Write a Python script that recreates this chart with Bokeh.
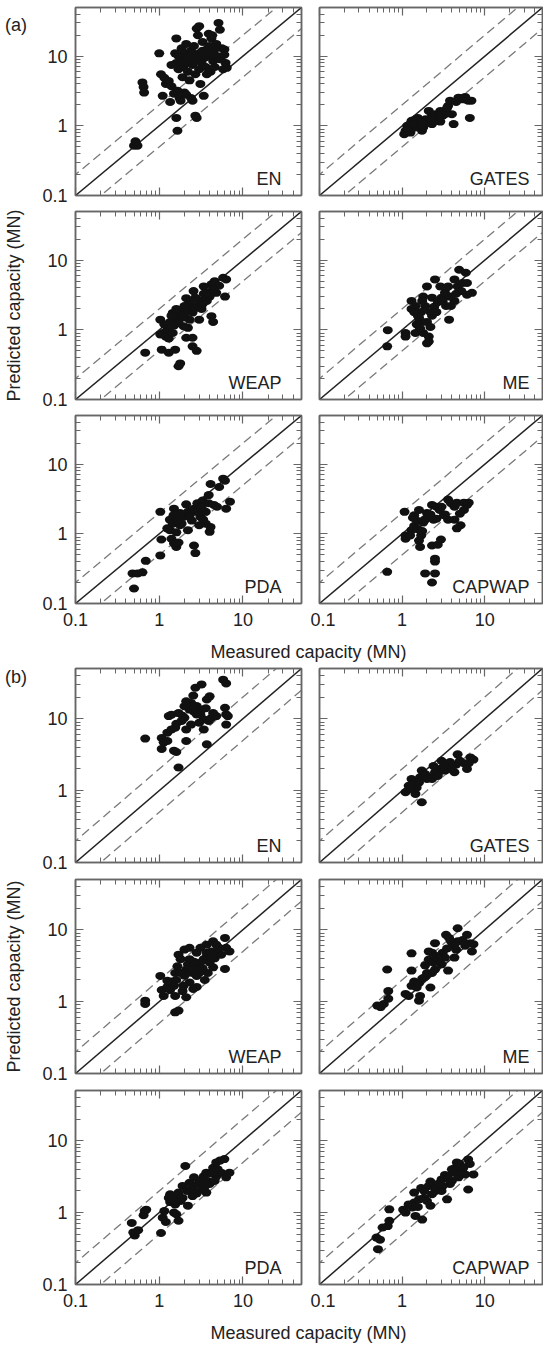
from bokeh.plotting import figure
from bokeh.models import LogAxis, Label, Range1d, FixedTicker, CustomJSTickFormatter, ColumnDataSource, Div
from bokeh.layouts import column, row
from bokeh.embed import file_html
from bokeh.resources import INLINE

# ---------------- data (measured, predicted) in MN ----------------
a_en = [(0.50,0.52),(0.53,0.55),(0.55,0.52),(0.52,0.60),(0.63,4.2),(0.65,3.6),(0.66,3.0),
        (1.0,11.0),(1.05,5.5),(1.1,2.7),(1.15,4.9),(1.2,4.0),(1.3,4.4),(1.35,2.2),(1.4,3.7),(1.6,1.3),(1.65,0.85),
        (1.5,2.9),(1.55,11),(1.6,18),(1.6,8.0),(1.65,3.2),(1.7,6.5),(1.75,2.5),(1.8,2.3),(1.8,9.5),(1.85,13),
        (1.9,5.0),(1.95,7.0),(2.0,11),(2.0,3.0),(2.1,2.8),(2.1,15),(2.2,8.5),(2.2,6.0),(2.3,4.5),(2.3,10),
        (2.4,2.5),(2.4,12),(2.5,2.3),(2.5,7.5),(2.6,14),(2.7,1.4),(2.8,1.3),(2.7,5.5),(2.8,9),(2.8,25),
        (2.9,20),(3.0,27),(3.0,11),(3.0,6.5),(3.1,4.0),(3.2,8),(3.3,16),(3.3,12),(3.4,2.7),(3.5,9.5),
        (3.6,7),(3.7,5.5),(3.8,13),(3.9,21),(4.0,10),(4.1,6),(4.2,18),(4.3,20),(4.4,8.5),(4.5,12),
        (4.6,7),(4.8,15),(5.0,10),(5.1,30),(5.3,24),(5.4,9),(5.6,13),(5.8,6.5),(6.0,12.5),(6.2,8.0),
        (6.4,6.8),(6.0,10.5),(2.0,8.0),(2.5,10.5),(1.7,10),(1.4,7.5),(3.6,12),(4.0,14)]
a_gates = [(1.06,0.76),(1.2,0.9),(1.3,1.18),(1.45,1.24),(1.6,1.05),(1.74,0.85),(1.92,1.24),(2.3,1.06),
           (2.5,1.47),(2.9,1.64),(3.3,1.64),(3.6,1.93),(4.0,1.47),(4.2,1.06),(4.8,2.54),(5.5,2.4),(6.3,2.3),
           (6.9,2.3),(6.6,1.3),(3.8,2.3),(2.3,1.4),(2.75,1.3),(3.1,1.4),(1.45,0.95),(1.26,0.8),(2.1,1.64),
           (1.15,1.0),(1.35,1.05),(1.55,1.3),(1.7,1.15),(1.8,0.95),(2.0,1.1),(2.2,1.25),(2.6,1.2),(2.9,1.15),
           (3.4,1.5),(3.5,1.8),(4.5,2.2),(5.0,2.5),(5.8,2.6),(6.2,2.35),(1.1,0.85)]
a_weap = [(0.68,0.47),(1.03,1.4),(1.03,0.86),(1.1,0.9),(1.2,0.8),(1.07,0.52),(1.3,0.47),(1.55,0.52),
          (1.7,0.3),(1.78,0.33),(2.1,0.77),(2.5,0.77),(2.5,0.58),(2.8,0.5),(2.2,1.07),(1.45,1.75),(1.6,1.6),
          (2.57,3.6),(3.4,4.2),(4.2,4.5),(4.6,5.0),(5.8,5.6),(6.3,5.3),(6.1,3.0),(4.2,1.57),(4.4,1.3),
          (3.7,2.6),(2.8,2.2),(3.1,2.6),(2.3,2.4),(2.1,2.85),(2.0,2.2),(1.8,1.77),(1.55,1.36),(1.35,1.3),
          (1.4,1.6),(2.5,1.77),(3.0,1.4),(2.3,1.4),(1.95,1.13),(3.4,3.3),(3.9,3.4),(4.8,3.4),(1.25,1.0),
          (1.5,1.15),(1.7,1.25),(1.9,1.5),(2.2,1.9),(2.6,2.0),(3.2,2.0),(3.6,2.9),(4.0,3.0),(4.5,3.8),
          (5.2,4.3),(2.7,2.9),(1.15,1.2),(1.6,2.0),(2.0,1.65),(2.4,2.6),(3.3,2.35),(1.3,0.75),(1.45,0.9)]
a_me = [(0.66,0.58),(0.67,0.99),(1.1,0.9),(1.1,0.8),(1.3,2.6),(1.3,2.0),(1.45,2.2),(1.55,1.6),(1.6,1.28),
        (1.45,0.9),(1.8,0.9),(2.1,0.8),(2.1,0.68),(2.0,0.64),(2.0,1.3),(2.3,1.6),(2.45,2.15),(2.3,2.9),
        (2.5,5.3),(2.0,4.2),(3.0,2.9),(3.3,3.4),(2.9,4.2),(3.6,4.2),(3.4,2.2),(3.7,1.4),(4.3,5.3),(4.7,4.2),
        (4.9,7.3),(5.9,6.6),(5.4,4.7),(6.1,4.7),(6.1,3.2),(7.0,3.4),(4.3,2.6),(3.9,2.2),(1.8,3.0),(1.75,2.6),
        (1.9,2.2),(1.7,1.8),(2.2,1.8),(2.6,1.8),(1.6,1.5),(1.75,1.3),(5.2,3.6),(1.4,1.8),(1.5,1.2),(2.7,2.5),
        (3.1,2.6),(3.8,3.0),(4.5,3.3),(2.2,1.1),(1.65,1.05)]
a_pda = [(0.50,0.164),(0.48,0.27),(0.55,0.27),(0.63,0.28),(0.69,0.41),(1.03,0.49),(1.06,0.83),(1.03,2.07),
         (1.34,1.6),(1.34,1.13),(1.4,0.85),(1.5,0.73),(1.6,0.65),(1.5,2.3),(1.77,2.0),(1.95,1.75),(2.2,2.07),
         (2.6,2.3),(2.85,2.75),(2.2,1.13),(2.6,0.68),(2.7,0.53),(3.1,1.75),(3.35,1.6),(3.6,2.07),(3.3,3.0),
         (3.9,2.75),(3.9,3.6),(4.1,5.2),(4.0,1.07),(4.1,1.25),(4.5,2.6),(4.9,2.45),(5.8,6.2),(6.1,5.8),
         (5.2,4.7),(7.0,2.9),(6.3,2.3),(3.6,1.4),(3.0,1.33),(2.45,1.55),(1.77,1.33),(1.85,1.4),(1.45,1.4),
         (1.48,1.85),(2.1,2.65),(2.6,2.07),(1.6,1.05),(1.7,0.75),(1.25,1.2),(2.3,1.8),(2.9,2.1),(3.2,2.4),(1.65,1.6)]
a_capwap = [(0.66,0.285),(1.07,2.07),(1.1,0.95),(1.1,0.85),(1.3,1.13),(1.4,1.3),(1.55,1.17),(1.6,0.8),
            (1.65,0.65),(1.6,2.2),(1.4,1.85),(1.8,1.45),(1.9,1.6),(2.3,2.6),(2.6,2.45),(2.85,2.2),(2.4,1.6),
            (2.6,1.65),(2.3,0.68),(2.7,0.7),(2.95,0.83),(2.5,0.44),(2.5,0.4),(1.9,0.27),(2.5,0.27),(2.3,0.2),
            (3.6,3.1),(3.9,2.75),(4.3,2.45),(3.3,1.9),(3.6,1.6),(4.6,1.2),(4.3,1.6),(5.1,1.33),(4.6,2.8),
            (5.6,2.2),(5.0,1.95),(5.6,2.8),(6.1,2.6),(6.4,2.8),(3.2,1.85),(3.0,2.45),(1.35,1.7),(1.5,1.55),
            (1.7,0.95),(2.0,2.0),(1.25,0.95),(1.75,1.1),(2.2,1.9)]

b_en = [(0.68,5.3),(1.07,5.4),(1.13,4.7),(1.07,3.8),(1.25,4.9),(1.25,6.4),(1.4,7.1),(1.55,7.5),(1.5,3.6),
        (1.6,3.45),(1.7,2.1),(1.3,10.9),(1.4,11.4),(1.7,12),(1.85,9.3),(2.1,7.1),(2.1,4.9),(2.3,13.4),
        (2.4,16.6),(2.55,21),(2.7,27),(3.2,30),(2.8,15),(3.2,13.4),(3.7,18.5),(4.0,20.5),(3.7,4.4),(3.4,9.8),
        (3.9,9.3),(4.2,10.3),(4.4,12),(4.8,10.9),(5.8,35),(6.3,31),(6.1,14.2),(6.3,11.5),(6.6,10.9),(6.3,8.3),
        (2.0,10.3),(2.4,8.3),(3.0,8.8),(3.1,11.5),(2.0,14.9),(2.1,17.5),(3.4,7.1),(2.8,11.5),(1.6,8.5),
        (2.6,12.5),(3.6,14),(1.9,11)]
b_gates = [(1.1,0.95),(1.2,1.17),(1.3,1.45),(1.45,0.9),(1.5,1.1),(1.73,0.69),(1.65,1.53),(1.73,1.9),
           (1.9,1.7),(2.2,1.53),(2.3,1.45),(2.7,1.7),(2.85,2.0),(3.0,2.6),(3.3,1.9),(3.6,2.0),(3.8,2.4),
           (4.3,1.8),(4.5,2.3),(4.7,3.2),(5.6,2.4),(6.1,2.0),(6.7,2.9),(7.3,2.7),(6.4,2.4),(3.8,2.5),(2.5,1.8),
           (2.7,1.6),(1.4,1.25),(1.6,1.3),(2.0,1.45),(2.4,2.2),(3.2,2.2),(4.0,2.1),(5.0,2.6),(1.25,1.05)]
b_weap = [(0.68,1.03),(0.68,0.93),(1.03,2.28),(1.07,1.45),(1.13,1.2),(1.25,1.6),(1.55,0.71),(1.7,0.75),
          (1.4,1.9),(1.5,1.66),(1.55,2.5),(1.7,4.5),(1.8,3.9),(2.0,5.3),(2.3,5.6),(2.1,1.15),(2.55,1.5),
          (2.8,1.6),(2.5,2.5),(2.7,3.0),(3.1,3.5),(3.4,3.9),(3.7,4.3),(3.5,2.0),(3.8,2.5),(4.4,3.0),(4.6,4.0),
          (3.7,6.2),(4.4,6.9),(4.8,6.2),(6.1,7.7),(6.3,5.6),(6.9,5.0),(6.1,2.85),(2.1,2.8),(2.0,2.3),(2.3,3.9),
          (1.65,3.1),(1.8,2.5),(2.8,4.8),(3.1,5.6),(3.7,4.8),(4.2,5.0),(5.2,5.6),(1.35,1.45),(1.55,1.2),
          (1.25,1.95),(1.95,1.66),(2.3,1.85),(2.8,2.28),(3.0,2.5),(4.0,3.5),(4.8,4.7),(1.6,2.0),(2.2,3.3),
          (2.6,3.6),(3.3,2.9),(5.5,4.5),(1.9,1.4)]
b_me = [(0.5,0.88),(0.55,0.84),(0.6,0.93),(0.66,2.8),(0.68,1.4),(0.68,1.1),(1.1,1.28),(1.2,1.2),(1.3,2.7),
        (1.4,1.9),(1.3,1.66),(1.3,4.7),(1.6,1.03),(1.65,1.2),(1.5,1.57),(1.75,2.1),(1.9,3.2),(2.1,3.85),
        (2.2,1.57),(2.1,5.0),(2.3,4.8),(2.5,6.5),(2.6,4.3),(2.8,3.85),(3.0,3.3),(3.6,2.7),(3.4,8.5),(3.7,7.7),
        (3.9,6.9),(4.7,10.5),(4.5,5.3),(4.3,4.1),(5.4,7.2),(6.1,8.5),(6.7,6.5),(7.0,5.0),(7.3,6.3),(4.7,6.9),
        (4.3,6.2),(3.1,4.8),(3.3,4.1),(2.5,2.8),(2.3,2.5),(1.9,2.2),(2.0,2.5),(2.4,3.5),(2.7,4.0),(1.6,1.8),
        (3.5,5.5),(5.8,6.0)]
b_pda = [(0.47,0.72),(0.51,0.48),(0.49,0.53),(0.56,0.57),(0.65,0.92),(0.67,1.05),(0.7,1.1),(1.05,0.52),
         (1.1,0.85),(1.15,1.05),(1.2,0.74),(1.35,1.8),(1.3,1.6),(1.5,1.0),(1.7,0.77),(1.6,0.95),(1.55,1.3),
         (1.8,1.45),(1.9,2.35),(2.05,4.45),(2.2,1.25),(2.15,2.0),(2.45,2.2),(2.65,2.0),(2.6,3.1),(2.95,2.5),
         (3.1,2.75),(3.4,3.2),(3.65,3.6),(3.8,2.75),(4.4,4.2),(4.8,5.0),(5.3,5.3),(6.0,5.55),(4.8,3.2),
         (5.5,3.6),(6.3,3.1),(6.9,3.6),(4.0,2.5),(4.6,2.75),(1.55,1.7),(1.7,1.9),(1.9,1.6),(1.35,1.4),
         (1.5,1.45),(2.8,1.85),(3.2,2.1),(3.5,2.3),(3.65,1.9),(2.3,2.6),(4.2,3.5),(5.0,4.0),(2.5,1.7)]
b_capwap = [(0.51,0.31),(0.49,0.45),(0.54,0.42),(0.58,0.62),(0.67,0.65),(0.7,0.77),(0.7,1.11),(1.03,1.1),
            (1.1,1.0),(1.33,1.18),(1.4,1.38),(1.4,1.9),(1.45,0.9),(1.75,0.8),(1.6,1.53),(1.7,2.2),(1.85,2.0),
            (2.1,2.35),(2.2,2.7),(2.2,1.25),(2.3,1.8),(2.55,2.0),(2.8,2.5),(3.0,2.9),(3.3,3.35),(3.5,1.53),
            (3.8,2.5),(4.0,2.75),(4.0,4.0),(4.4,4.2),(4.6,5.0),(5.0,4.75),(5.3,3.8),(5.8,3.4),(6.3,5.5),
            (6.6,4.75),(6.3,2.1),(7.3,3.4),(2.7,2.5),(3.1,2.35),(1.85,1.6),(2.0,1.45),(3.6,3.0),(4.8,3.1),
            (1.2,1.3),(1.55,1.2),(2.5,2.2),(4.2,3.6),(5.5,4.2),(3.0,2.0)]

methods = ["EN", "GATES", "WEAP", "ME", "PDA", "CAPWAP"]
group_a = [a_en, a_gates, a_weap, a_me, a_pda, a_capwap]
group_b = [b_en, b_gates, b_weap, b_me, b_pda, b_capwap]

major_ticks = [0.1, 1, 10]
minor_ticks = [0.2, 0.3, 0.4, 0.5, 0.6, 0.7, 0.8, 0.9, 2, 3, 4, 5, 6, 7, 8, 9, 20, 30, 40]
axis_min, axis_max = 0.1, 50
ref_x = [0.05, 100]
upper_factor, lower_factor = 2.0, 0.5

FONT = "Liberation Sans"
AXIS_COLOR = "#666666"
TEXT_COLOR = "#222222"
TAG_W = 35


def style_axis(ax, labels, standoff=8):
    ax.ticker = FixedTicker(ticks=major_ticks, minor_ticks=minor_ticks)
    ax.axis_line_color = AXIS_COLOR
    ax.axis_line_width = 1.5
    ax.major_tick_line_color = AXIS_COLOR
    ax.minor_tick_line_color = AXIS_COLOR
    ax.major_tick_line_width = 1.2
    ax.minor_tick_line_width = 1.0
    ax.major_tick_in = 8
    ax.major_tick_out = 0
    ax.minor_tick_in = 5
    ax.minor_tick_out = 0
    if labels:
        ax.formatter = CustomJSTickFormatter(code="return tick.toString()")
        ax.major_label_text_font = FONT
        ax.major_label_text_font_size = "18px"
        ax.major_label_text_color = TEXT_COLOR
        ax.major_label_standoff = standoff
    else:
        ax.formatter = CustomJSTickFormatter(code="return ''")
        ax.major_label_text_font_size = "0px"
        ax.major_label_standoff = 0


def make_panel(pts, name, col, frame_h, top, bottom, xlabels, ylabel_text=None, left_b=None):
    if left_b is None:
        left_b = 75 if col == 0 else 9
    right_b = 9 if col == 0 else 1
    fw = 226 if col == 0 else 223
    p = figure(x_axis_type="log", y_axis_type="log",
               x_range=Range1d(axis_min, axis_max), y_range=Range1d(axis_min, axis_max),
               frame_width=fw, frame_height=frame_h,
               min_border_left=left_b, min_border_right=right_b,
               min_border_top=top, min_border_bottom=bottom,
               output_backend="svg", toolbar_location=None, title=None)
    p.xgrid.visible = False
    p.ygrid.visible = False
    p.outline_line_color = AXIS_COLOR
    p.outline_line_width = 1.5
    p.background_fill_color = "white"
    p.border_fill_color = "white"

    style_axis(p.xaxis[0], xlabels, standoff=9)
    style_axis(p.yaxis[0], col == 0, standoff=8)
    top_ax = LogAxis()
    right_ax = LogAxis()
    style_axis(top_ax, False)
    style_axis(right_ax, False)
    p.add_layout(top_ax, "above")
    p.add_layout(right_ax, "right")

    if ylabel_text:
        p.yaxis[0].axis_label = ylabel_text
        p.yaxis[0].axis_label_text_font = FONT
        p.yaxis[0].axis_label_text_font_size = "18px"
        p.yaxis[0].axis_label_text_font_style = "normal"
        p.yaxis[0].axis_label_text_color = TEXT_COLOR
        p.yaxis[0].axis_label_standoff = 15

    # reference lines: 1:1 solid, factor-of-two dashed
    p.line(ref_x, ref_x, line_color="#222222", line_width=1.5)
    p.line(ref_x, [v * upper_factor for v in ref_x], line_color="#7a7a7a", line_width=1.3, line_dash="9 5")
    p.line(ref_x, [v * lower_factor for v in ref_x], line_color="#7a7a7a", line_width=1.3, line_dash="9 5")

    src = ColumnDataSource(dict(x=[q[0] for q in pts], y=[q[1] for q in pts]))
    p.ellipse(x="x", y="y", width=10, height=8, width_units="screen", height_units="screen",
              fill_color="#111111", line_color=None, source=src)

    p.add_layout(Label(x=axis_max, y=axis_min, text=name, text_align="right", text_baseline="alphabetic",
                       x_offset=-20 if col == 0 else -13, y_offset=17,
                       text_font=FONT, text_font_size="18px", text_color=TEXT_COLOR))
    return p


def tag_div(tag, height, pad_top):
    html = ("<div style='font-family:\"Liberation Sans\",Arial,sans-serif;font-size:18px;"
            "line-height:20px;color:%s;padding-top:%dpx;padding-left:5px;'>%s</div>" % (TEXT_COLOR, pad_top, tag))
    return Div(text=html, width=TAG_W, height=height, margin=(0, 0, 0, 0))


def text_fig(h, text, sy):
    p = figure(frame_width=543, frame_height=h, min_border=0,
               x_range=Range1d(0, 1), y_range=Range1d(0, 1),
               x_axis_location=None, y_axis_location=None,
               output_backend="svg", toolbar_location=None, title=None)
    p.outline_line_color = None
    p.xgrid.visible = False
    p.ygrid.visible = False
    p.add_layout(Label(x=308, y=sy, x_units="screen", y_units="screen", text=text,
                       text_align="center", text_baseline="middle",
                       text_font=FONT, text_font_size="18px", text_color=TEXT_COLOR))
    return p


def make_group(data, frame_h, tops, bottoms, tag, tag_pad):
    rows = []
    for r in range(3):
        items = []
        for c in range(2):
            i = r * 2 + c
            lb = (75 - TAG_W) if (r == 0 and c == 0) else None
            items.append(make_panel(data[i], methods[i], c, frame_h, tops[r], bottoms[r],
                                    xlabels=(r == 2),
                                    ylabel_text="Predicted capacity (MN)" if (r == 1 and c == 0) else None,
                                    left_b=lb))
        if r == 0:
            items.insert(0, tag_div(tag, tops[0] + frame_h + bottoms[0], tag_pad))
        rows.append(row(*items))
    return rows


rows_a = make_group(group_a, 188, [7, 3, 3], [13, 13, 32], "(a)", 15)
xlab_a = text_fig(27, "Measured capacity (MN)", 11)
rows_b = make_group(group_b, 194, [6, 3, 3], [14, 14, 32], "(b)", 5)
xlab_b = text_fig(30, "Measured capacity (MN)", 14)

layout = column(*rows_a, xlab_a, *rows_b, xlab_b)
open("out.html", "w").write(file_html(layout, INLINE))
